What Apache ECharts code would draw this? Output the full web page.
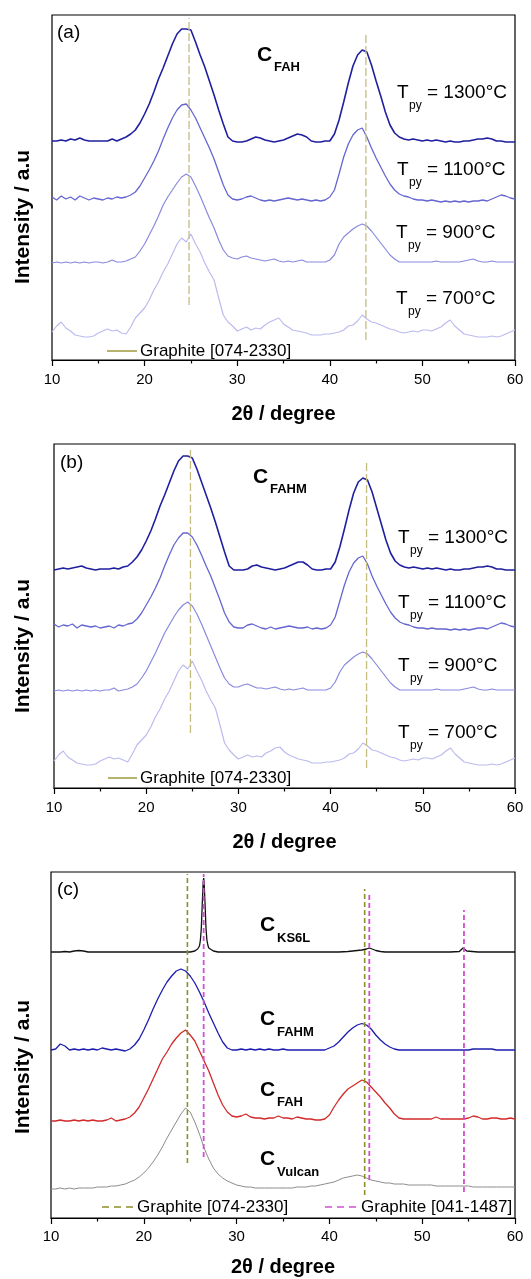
<!DOCTYPE html>
<html>
<head>
<meta charset="utf-8">
<script src="https://cdn.jsdelivr.net/npm/echarts@6/dist/echarts.min.js"></script>
<style>
html,body{margin:0;padding:0;background:#fff;}
#chart{width:531px;height:1279px;}
</style>
</head>
<body>
<div id="chart"></div>
<script>
// ---------- DATA ----------
const twoTheta = [
10,10.5,11,11.5,12,12.5,13,13.5,14,14.5,
15,15.5,16,16.5,17,17.5,18,18.5,19,19.5,
20,20.5,21,21.5,22,22.5,23,23.5,24,24.5,
25,25.5,26,26.5,27,27.5,28,28.5,29,29.5,
30,30.5,31,31.5,32,32.5,33,33.5,34,34.5,
35,35.5,36,36.5,37,37.5,38,38.5,39,39.5,
40,40.5,41,41.5,42,42.5,43,43.5,44,44.5,
45,45.5,46,46.5,47,47.5,48,48.5,49,49.5,
50,50.5,51,51.5,52,52.5,53,53.5,54,54.5,
55,55.5,56,56.5,57,57.5,58,58.5,59,59.5,
60];
const xTicks = [10,20,30,40,50,60];

// panel (a) C_FAH, stacked intensities (a.u.)
const a1300 = [
219,219,220,219,221,220,222,220,219,219,
219,219,219,221,219,221,223,226,230,237,
246,256,268,281,292,304,316,326,331,331,
330,318,305,293,279,265,250,236,223,219,
218,218,219,221,223,222,220,219,218,219,
220,222,224,226,225,223,219,218,218,219,
219,226,240,258,277,294,305,310,308,295,
279,264,248,235,227,223,221,220,221,220,
219,220,219,220,219,218,219,218,218,219,
219,220,221,221,222,221,219,219,218,218,
218];
const a1100 = [
163,160,164,161,163,160,164,162,160,162,
161,160,162,161,163,162,163,165,168,174,
182,190,199,209,221,232,242,250,255,256,
250,242,232,222,212,201,188,175,165,161,
160,161,163,164,162,160,159,160,159,160,
161,162,161,160,161,160,159,160,159,160,
163,170,186,203,216,225,230,232,223,212,
202,193,184,176,170,166,164,163,161,160,
160,159,160,159,158,159,158,159,158,159,
158,159,159,160,159,161,163,165,164,162,
161];
const a900 = [
97,98,97,98,97,98,97,98,97,98,
98,97,98,100,98,98,99,101,103,109,
116,125,134,144,155,163,170,177,183,186,
183,174,164,153,142,132,120,110,104,102,
101,103,104,102,101,100,99,100,101,99,
98,99,98,99,100,98,98,98,98,98,
100,105,116,123,127,131,134,136,134,129,
123,117,111,105,101,98,98,98,98,98,
98,98,98,99,98,98,98,98,98,99,
100,101,99,98,98,99,98,98,98,98,
98];
const a700 = [
28,34,38,32,29,25,24,23,23,24,
27,29,31,29,30,27,26,33,42,47,
52,60,70,78,88,96,106,116,122,118,
126,116,108,97,88,80,62,45,38,34,
29,31,33,30,32,31,35,38,40,42,
36,33,30,29,28,27,25,25,25,26,
26,27,28,30,34,35,39,45,41,38,
37,35,33,31,30,28,27,28,29,28,
30,30,29,31,33,37,40,34,30,26,
25,24,23,23,23,24,23,24,26,28,
30];

// panel (b) C_FAHM
const b1300 = [
218,219,220,219,220,221,222,220,219,218,
219,219,219,220,219,221,222,226,231,238,
247,257,269,282,293,305,317,327,332,332,
330,319,306,293,280,266,251,236,222,218,
218,218,219,222,223,221,220,219,218,219,
220,222,224,226,226,223,219,218,218,219,
219,226,241,259,278,295,306,310,308,296,
280,264,248,235,227,223,221,220,221,220,
219,220,219,220,219,218,219,218,218,219,
219,220,221,221,222,221,219,219,218,218,
218];
const b1100 = [
164,161,163,162,164,160,163,162,161,162,
160,161,162,160,163,162,164,165,169,175,
183,191,200,210,222,233,243,250,255,255,
251,243,233,222,212,200,188,175,166,161,
160,160,163,164,162,160,159,161,159,160,
161,162,161,160,160,161,159,160,159,160,
163,171,187,203,216,225,230,232,224,212,
202,193,184,176,170,166,164,163,161,160,
160,159,160,159,159,159,158,159,158,159,
158,159,160,160,159,161,163,165,164,162,
161];
const b900 = [
97,98,97,98,97,98,97,98,97,98,
97,98,98,100,97,98,99,101,104,110,
117,126,135,145,155,163,171,178,183,186,
182,174,164,153,142,131,120,110,104,101,
101,103,104,102,100,100,99,100,101,99,
98,99,98,99,100,98,98,98,98,98,
100,106,116,123,127,131,134,136,134,129,
123,117,111,105,101,98,98,98,98,98,
98,98,98,99,98,98,98,98,98,99,
100,101,99,98,98,99,98,98,98,98,
98];
const b700 = [
27,33,37,31,28,25,24,23,23,24,
27,29,31,29,30,28,26,34,43,48,
53,61,71,79,89,97,107,117,123,119,
127,117,108,97,88,80,63,45,38,33,
29,31,33,31,32,31,35,37,40,41,
36,33,31,29,28,27,25,25,25,26,
26,27,28,30,34,35,39,45,42,38,
37,35,33,31,30,28,27,28,29,28,
30,30,29,31,33,37,40,34,30,26,
25,24,23,23,23,24,23,24,26,28,
30];

// panel (c) comparison
const cKS6L = [ // [2theta, intensity]
[10,266],[10.5,266],[11,266],[11.5,266.5],[12,266],[12.5,267],[13,267.5],[13.5,267],[14,266],[15,266],
[16,266],[17,266],[18,266],[19,266],[20,266],[21,266],[22,266],[23,266],[24,266],[25,266],
[25.5,267],[25.8,269],[26.0,272],[26.1,278],[26.2,290],[26.3,314],[26.4,336],[26.45,340],[26.5,336],[26.6,314],
[26.7,290],[26.8,278],[26.9,273],[27.0,270],[27.2,268],[27.5,267],[28,266],[29,266],[30,266],[31,266],
[32,266],[33,266],[34,266],[35,266],[36,266],[37,266],[38,266],[39,266],[40,266],[41,266],
[42,266.5],[42.5,267],[43,267.5],[43.5,268],[44,269],[44.3,270],[44.6,269],[45,267.5],[45.5,266.5],[46,266],
[47,266],[48,266],[49,266],[50,266],[51,266],[52,266],[53,266],[54,266.5],[54.2,267.5],[54.4,270],
[54.6,269],[54.8,267],[55,266],[56,266],[57,266],[58,266],[59,266],[60,266]];
const cFAHM = [
168,169,174,172,168,169,168,169,168,169,
168,170,169,168,169,168,167,169,173,179,
188,198,209,219,228,236,242,247,249,247,
242,235,226,216,205,195,185,176,170,168,
168,169,168,169,168,169,168,169,168,168,
169,168,168,168,168,168,168,168,168,168,
170,172,176,181,186,190,193,194.5,193,189,
183,178,174,171,169,168,168,168,168,168,
168,168,168,168,168,168,168,168,168,168,
168,169,169,169,169,169,168,168,168,168,
168];
const cFAH = [
97,97,98,97,97,98,97,98,97,98,
97,97,98,100,97,98,99,101,105,111,
120,129,139,149,159,166,174,180,185,188,
183,177,167,157,147,135,123,113,106,102,
101,102,104,101,100,100,99,100,100,102,
100,100,99,101,100,99,99,98,98,99,
103,111,118,124,129,132,135,138,136,131,
126,121,115,110,104,100,99,99,99,99,
99,99,99,101,99,99,99,99,99,99,
100,102,101,99,99,100,100,99,99,100,
99];
const cVulcan = [
29,29,30,29,30,29,30,30,30,30,
31,31,31,32,32,33,34,36,38,41,
45,50,56,63,71,80,88,96,104,110,
106,96,84,70,59,50,44,40,37,35,
33,32,31,31,30,30,30,30,30,30,
30,30,30,31,31,31,32,32,33,34,
35,36,38,40,41,42,43,42,40,38,
37,36,35,35,34,34,34,33,33,33,
33,33,33,32,32,32,32,32,32,32,
32,31,31,31,31,31,31,31,31,31,
31];

// reference (JCPDS) lines: position, lower and upper extent of the drawn tick
const refA_x = [24.8, 43.9], refA_lo = [55, 20], refA_hi = [342, 328];
const refB_x = [24.8, 43.9], refB_lo = [55, 20], refB_hi = [340, 326];
const refC1_x = [24.7, 43.8], refC1_lo = [55, 23], refC1_hi = [344, 329];          // 074-2330
const refC2_x = [26.45, 44.3, 54.5], refC2_lo = [61, 38, 26], refC2_hi = [344, 325, 308]; // 041-1487

// ---------- CHART ----------
const FONT = "'Liberation Sans', Arial, Helvetica, sans-serif";
const chart = echarts.init(document.getElementById('chart'), null, {renderer: 'canvas'});

const grids = [
  {left: 52, top: 15, width: 463, height: 345, ymax: 345},
  {left: 54, top: 444, width: 461, height: 344, ymax: 344},
  {left: 51, top: 872, width: 464, height: 346, ymax: 346}
];
const nameGaps = [44, 44, 39];
const labelMargins = [12, 12, 11];

function zip(theta, vals) { return theta.map((t, i) => [t, vals[i]]); }

const series = [];
function addCurve(gi, data, color, width) {
  series.push({type: 'line', xAxisIndex: gi, yAxisIndex: gi, data: data, symbol: 'none',
    lineStyle: {color: color, width: width}, silent: true, z: 2});
}
function addRefs(gi, xs, lo, hi, color, width, dash) {
  xs.forEach((x, i) => {
    series.push({type: 'line', xAxisIndex: gi, yAxisIndex: gi, data: [[x, lo[i]], [x, hi[i]]],
      symbol: 'none', lineStyle: {color: color, width: width, type: dash}, silent: true, z: 3});
  });
}

const C1300 = '#1f1f9f', C1100 = '#6666d2', C900 = '#8a8adf', C700 = '#bbbbef';
addCurve(0, zip(twoTheta, a1300), C1300, 1.6);
addCurve(0, zip(twoTheta, a1100), C1100, 1.3);
addCurve(0, zip(twoTheta, a900), C900, 1.2);
addCurve(0, zip(twoTheta, a700), C700, 1.2);
addRefs(0, refA_x, refA_lo, refA_hi, '#c4bd82', 1.3, [8, 3]);

addCurve(1, zip(twoTheta, b1300), C1300, 1.6);
addCurve(1, zip(twoTheta, b1100), C1100, 1.3);
addCurve(1, zip(twoTheta, b900), C900, 1.2);
addCurve(1, zip(twoTheta, b700), C700, 1.2);
addRefs(1, refB_x, refB_lo, refB_hi, '#c4bd82', 1.3, [8, 3]);

addCurve(2, cKS6L, '#111111', 1.3);
addCurve(2, zip(twoTheta, cFAHM), '#1c1cb0', 1.3);
addCurve(2, zip(twoTheta, cFAH), '#d22a2a', 1.3);
addCurve(2, zip(twoTheta, cVulcan), '#8c8c8c', 1.0);
addRefs(2, refC1_x, refC1_lo, refC1_hi, '#8f8f2a', 1.6, [5, 3]);
addRefs(2, refC2_x, refC2_lo, refC2_hi, '#d050d0', 1.8, [5, 3]);

const xAxes = grids.map((g, i) => ({
  type: 'value', gridIndex: i, min: xTicks[0], max: xTicks[xTicks.length - 1], interval: 10,
  name: '2θ / degree', nameLocation: 'middle', nameGap: nameGaps[i],
  nameTextStyle: {fontFamily: FONT, fontWeight: 'bold', fontSize: 20, color: '#000'},
  axisLine: {show: true, onZero: false, lineStyle: {color: '#000', width: 1.2}},
  axisTick: {show: true, inside: false, length: 6, lineStyle: {color: '#000', width: 1.2}},
  minorTick: {show: true, splitNumber: 2, length: 3.5, lineStyle: {color: '#000', width: 1.2}},
  axisLabel: {fontFamily: FONT, fontSize: 15, color: '#000', margin: labelMargins[i]},
  splitLine: {show: false}, minorSplitLine: {show: false}
}));
const yAxes = grids.map((g, i) => ({
  type: 'value', gridIndex: i, min: 0, max: g.ymax,
  axisLine: {show: false}, axisTick: {show: false}, axisLabel: {show: false}, splitLine: {show: false}
}));

function txt(x, y, text, size, bold, color, extra) {
  return Object.assign({type: 'text', x: x, y: y, silent: true, z: 10,
    style: {text: text, fill: color || '#000', align: 'left', verticalAlign: 'middle',
      font: (bold ? 'bold ' : '') + size + 'px ' + FONT}}, extra || {});
}
function ylab(y) {
  return {type: 'text', x: 23, y: y, rotation: Math.PI / 2, silent: true, z: 10,
    style: {text: 'Intensity / a.u', fill: '#000', align: 'center', verticalAlign: 'middle',
      font: 'bold 21px ' + FONT}};
}
function tpy(x, y, temp) {
  return [txt(x, y, 'T', 19), txt(x + 12, y + 13, 'py', 12), txt(x + 30, y, '= ' + temp + '°C', 19)];
}

const graphic = [
  ylab(217), ylab(646), ylab(1067),
  // (a)
  txt(57, 33, '(a)', 19),
  txt(257, 55, 'C', 21, true), txt(274, 67, 'FAH', 13, true),
  ...tpy(397, 93, 1300), ...tpy(397, 170, 1100), ...tpy(396, 233, 900), ...tpy(396, 299, 700),
  {type: 'line', silent: true, z: 10, shape: {x1: 107, y1: 351, x2: 137, y2: 351}, style: {stroke: '#9d9a3c', lineWidth: 1.5}},
  txt(140, 351, 'Graphite [074-2330]', 17),
  // (b)
  txt(60, 463, '(b)', 19),
  txt(253, 477, 'C', 21, true), txt(270, 489, 'FAHM', 13, true),
  ...tpy(398, 538, 1300), ...tpy(398, 603, 1100), ...tpy(398, 666, 900), ...tpy(398, 733, 700),
  {type: 'line', silent: true, z: 10, shape: {x1: 108, y1: 778, x2: 137, y2: 778}, style: {stroke: '#9d9a3c', lineWidth: 1.5}},
  txt(140, 778, 'Graphite [074-2330]', 17),
  // (c)
  txt(57, 890, '(c)', 19),
  txt(260, 925, 'C', 21, true), txt(277, 938, 'KS6L', 13, true),
  txt(260, 1019, 'C', 21, true), txt(277, 1032, 'FAHM', 13, true),
  txt(260, 1090, 'C', 21, true), txt(277, 1102, 'FAH', 13, true),
  txt(260, 1159, 'C', 21, true), txt(277, 1172, 'Vulcan', 13, true),
  {type: 'line', silent: true, z: 10, shape: {x1: 102, y1: 1207, x2: 134, y2: 1207}, style: {stroke: '#8f8f2a', lineWidth: 1.5, lineDash: [7, 5]}},
  txt(137, 1207, 'Graphite [074-2330]', 17),
  {type: 'line', silent: true, z: 10, shape: {x1: 325, y1: 1207, x2: 358, y2: 1207}, style: {stroke: '#d050d0', lineWidth: 1.5, lineDash: [7, 5]}},
  txt(361, 1207, 'Graphite [041-1487]', 17)
];

chart.setOption({
  animation: false,
  backgroundColor: '#fff',
  grid: grids.map(g => ({left: g.left, top: g.top, width: g.width, height: g.height,
    show: true, borderColor: '#000', borderWidth: 1.2, backgroundColor: 'transparent', containLabel: false})),
  xAxis: xAxes,
  yAxis: yAxes,
  series: series,
  graphic: graphic
});
</script>
</body>
</html>
